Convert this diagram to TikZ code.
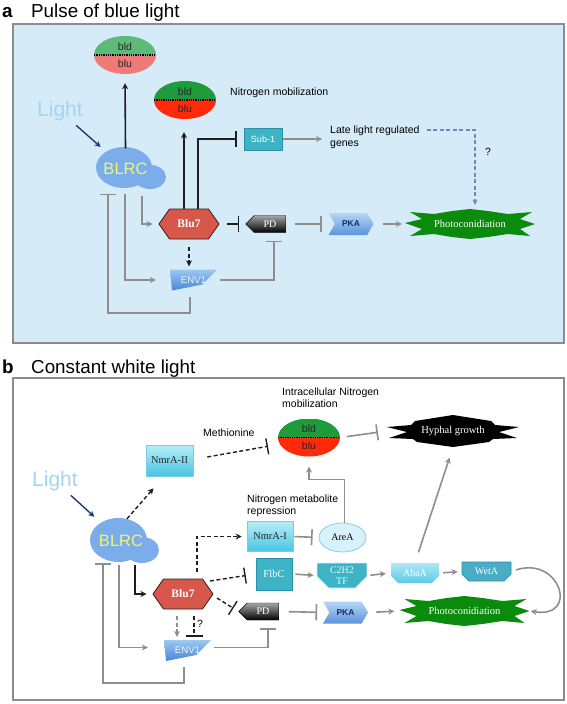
\documentclass[tikz,border=0pt]{standalone}
\usepackage{fontspec}
\setmainfont{Liberation Sans}
\newfontfamily\serifx{Liberation Serif}
\usetikzlibrary{arrows.meta,shapes.geometric,shapes.misc,shapes.symbols}

\definecolor{panelbg}{HTML}{D5EBF8}
\definecolor{panelline}{HTML}{8C8C8C}
\definecolor{grayline}{HTML}{8E8E8E}
\definecolor{darkline}{HTML}{1E1E1E}
\definecolor{navyline}{HTML}{1F3A7A}
\definecolor{dashblue}{HTML}{6C8CB4}
\definecolor{lightglow}{HTML}{9FD6F2}
\definecolor{greenpale}{HTML}{5DBB77}
\definecolor{pinkpale}{HTML}{F07A78}
\definecolor{greenvivid}{HTML}{1E9B3A}
\definecolor{redvivid}{HTML}{FF2A0A}
\definecolor{blrcfill}{HTML}{7AADE9}
\definecolor{blrctext}{HTML}{F5F56A}
\definecolor{blufill}{HTML}{D8574B}
\definecolor{bluborder}{HTML}{3A1A1A}
\definecolor{tealfill}{HTML}{3DB4C6}
\definecolor{tealline}{HTML}{2C8FA6}
\definecolor{pktop}{HTML}{B5D6F6}
\definecolor{pkbot}{HTML}{5B93DC}
\definecolor{pktext}{HTML}{1B2B5E}
\definecolor{photofill}{HTML}{0B8B0B}
\definecolor{envtop}{HTML}{9CC8F2}
\definecolor{envbot}{HTML}{4886D6}
\definecolor{envtext}{HTML}{EAF2FF}
\definecolor{nmrtop}{HTML}{B5EEF8}
\definecolor{nmrbot}{HTML}{48C5E2}
\definecolor{nmrline}{HTML}{7CCBE0}
\definecolor{abatop}{HTML}{B0E8F6}
\definecolor{ababot}{HTML}{5BC9E6}
\definecolor{wetfill}{HTML}{48ADC5}
\definecolor{areafill}{HTML}{D8F2FB}
\definecolor{arealine}{HTML}{8ACCE0}

\tikzset{
  lbl/.style={inner sep=1pt, align=left, font=\fontsize{10.5}{12}\selectfont},
  title/.style={inner sep=0, anchor=base west, font=\fontsize{18.8}{22}\selectfont},
  lighttx/.style={inner sep=1pt, text=lightglow, font=\fontsize{21}{24}\selectfont},
  blrctx/.style={inner sep=0, text=blrctext, font=\fontsize{16.5}{18}\selectfont},
  gline/.style={draw=grayline, line width=1.6pt},
  dline/.style={draw=darkline, line width=1.6pt},
  garrow/.style={gline, -{Stealth[length=6pt,width=6pt]}},
  ginhib/.style={gline, -{Bar[width=16pt]}},
  darrow/.style={dline, -{Stealth[length=6pt,width=6pt]}},
  dinhib/.style={dline, -{Bar[width=16pt]}},
  dashed line/.style={dash pattern=on 4pt off 2.5pt, line width=1.4pt},
  bud/.style 2 args={ellipse, minimum width=62, minimum height=38, inner sep=0,
    align=center, font=\fontsize{10.5}{17}\selectfont, text=black!85,
    path picture={
      \fill[#1] (path picture bounding box.north west) rectangle (path picture bounding box.east);
      \fill[#2] (path picture bounding box.west) rectangle (path picture bounding box.south east);
      \draw[black, line width=1.3pt, densely dotted] (path picture bounding box.west) -- (path picture bounding box.east);}},
  hexa/.style={signal, signal to=west and east, signal pointer angle=110, minimum width=60,
    minimum height=30, inner sep=0, fill=blufill, draw=bluborder, line width=0.8pt,
    text=white, font=\serifx\bfseries\fontsize{11.5}{13}\selectfont},
  pdbox/.style={signal, signal to=west, signal from=nowhere, minimum width=40, minimum height=17,
    inner sep=0, top color=black!35, bottom color=black, draw=black, line width=0.4pt,
    text=white, font=\serifx\fontsize{10}{12}\selectfont},
  pkbox/.style={signal, signal to=east, signal from=west, signal pointer angle=120,
    minimum width=45, minimum height=22, inner sep=0, top color=pktop, bottom color=pkbot,
    text=pktext, font=\bfseries\fontsize{8.5}{10}\selectfont},
  tealbox/.style={rectangle, fill=tealfill, draw=tealline, line width=0.8pt, inner sep=0,
    text=white},
  nmrbox/.style={rectangle, top color=nmrtop, bottom color=nmrbot, draw=nmrline, line width=0.6pt,
    inner sep=0, text=black!85, font=\serifx\fontsize{10.4}{12}\selectfont},
  cutbox/.style={chamfered rectangle, chamfered rectangle corners={south west, south east},
    chamfered rectangle xsep=8pt, inner sep=0, text=white,
    font=\serifx\fontsize{10}{11}\selectfont},
  envbox/.style={rectangle, minimum width=47, minimum height=21, inner sep=0, text=envtext,
    font=\fontsize{9.6}{11}\selectfont,
    path picture={
      \shade[top color=envtop, bottom color=envbot] (path picture bounding box.north west)
        -- (path picture bounding box.north east)
        -- ([shift={(-15,-6)}]path picture bounding box.south east)
        -- ([shift={(2,0)}]path picture bounding box.south west) -- cycle;}},
  burstbox/.style={rectangle, minimum width=130, minimum height=30, inner sep=0, text=white,
    font=\serifx\fontsize{10.5}{12}\selectfont},
  photostar/.pic={
    \fill[photofill] (-65,-1) -- (-48,-5) -- (-60,-12) -- (-36,-10) -- (-18,-13) -- (0,-15)
      -- (18,-13) -- (38,-10) -- (62,-12) -- (50,-5) -- (65,0) -- (50,5) -- (60,12)
      -- (38,10) -- (18,13) -- (0,15) -- (-18,13) -- (-36,10) -- (-60,12) -- (-48,5) -- cycle;},
  hyphstar/.pic={
    \fill[black] (-66,-4) -- (-42,-6) -- (-38,-10) -- (0,-16) -- (38,-10) -- (42,-6)
      -- (66,-4) -- (46,1) -- (64,7) -- (40,8) -- (36,11) -- (0,16) -- (-36,11)
      -- (-40,8) -- (-64,7) -- (-46,1) -- cycle;}
}

\begin{document}
\begin{tikzpicture}[x=1pt, y=-1pt]
  \useasboundingbox (0,0) rectangle (567,704);

  % panel a
  \draw[panelline, fill=panelbg, line width=1.2pt] (13,24) rectangle (564,343);
  \node[title, font=\bfseries\fontsize{18.8}{22}\selectfont] (labA) at (2,17) {a};
  \node[title] (titA) at (31,17) {Pulse of blue light};

  \node[lighttx] (lightA) at (60,111) {Light};
  \fill[blrcfill] (124,167.5) ellipse (28 and 20.5) (150,177) ellipse (16 and 12);
  \node[blrctx, minimum width=56, minimum height=41] (blrcA) at (125.5,169) {BLRC};
  \node[bud={greenpale}{pinkpale}] (budA1) at (125,55) {bld\\blu};
  \node[bud={greenvivid}{redvivid}] (budA2) at (185,100) {bld\\blu};
  \node[lbl, anchor=west] (nmobA) at (229,93) {Nitrogen mobilization};
  \node[tealbox, minimum width=38, minimum height=22, font=\fontsize{9}{10}\selectfont] (subA) at (263,139) {Sub-1};
  \node[lbl, anchor=west, font=\fontsize{10.5}{13}\selectfont] (lateA) at (329,137) {Late light regulated\\genes};
  \node[lbl] (qA) at (488,152) {?};
  \node[hexa] (bluA) at (189,224) {Blu7};
  \node[pdbox] (pdA) at (270,224) {PD};
  \node[pkbox] (pkA) at (351,224) {PKA};
  \pic at (470,224) {photostar};
  \node[burstbox] (phA) at (470,224) {Photoconidiation};
  \node[envbox] (envA) at (193.5,280) {ENV1};

  \draw[navyline, line width=1.4pt, -{Stealth[length=6pt,width=6pt]}, shorten <=5pt, shorten >=2pt] (lightA) -- (blrcA);
  \draw[darrow, shorten >=9pt] (blrcA.north) -- (budA1.south);
  \draw[garrow, shorten <=4pt, shorten >=14pt] ([xshift=-0.5pt]blrcA.south) |- (envA.west);
  \draw[garrow, shorten <=6pt, shorten >=6pt] ([xshift=16.5pt]blrcA.south) |- (bluA.west);
  \draw[ginhib, shorten >=4pt] ([xshift=-3.5pt,yshift=-6pt]envA.south) -- ++(0,16) -| ([xshift=-17.5pt]blrcA.south);
  \draw[dline, dashed line, -{Stealth[length=6pt,width=6pt]}, shorten <=8pt, shorten >=3pt] (bluA.south) -- (bluA.south |- envA.north);
  \draw[darrow, shorten >=13pt] ([xshift=-5pt]bluA.north) -- ([xshift=-1pt]budA2.south);
  \draw[dinhib, shorten >=7pt] ([xshift=9pt]bluA.north) |- (subA.west);
  \draw[garrow, shorten <=1pt, shorten >=7pt] (subA.east) -- (subA.east -| lateA.west);
  \draw[dashblue, dashed line, -{Stealth[length=5pt,width=5pt]}, shorten <=6pt, shorten >=4pt] ([yshift=7pt]lateA.east) -| ([xshift=5pt]phA.north);
  \draw[dinhib, shorten <=8pt, shorten >=6pt] (bluA.east) -- (pdA.west);
  \draw[ginhib, shorten <=9pt, shorten >=13pt] (pdA.east) -- (pkA.west);
  \draw[garrow, shorten <=9pt, shorten >=3pt] (pkA.east) -- (phA.west);
  \draw[ginhib, shorten <=3pt, shorten >=8pt] (envA.east) -| ([xshift=4pt]pdA.south);

  % panel b
  \draw[panelline, line width=1.2pt] (13,378) rectangle (564,700);
  \node[title, font=\bfseries\fontsize{18.8}{22}\selectfont] (labB) at (2,373) {b};
  \node[title] (titB) at (31,373) {Constant white light};

  \node[lighttx] (lightB) at (55,481) {Light};
  \fill[blrcfill] (118.5,540) ellipse (28.5 and 22) (142,550) ellipse (17 and 13);
  \node[blrctx, minimum width=57, minimum height=44] (blrcB) at (121,541) {BLRC};
  \node[nmrbox, minimum width=47, minimum height=31] (nmrII) at (169.5,460.5) {NmrA-II};
  \node[lbl, anchor=west] (methB) at (202,433) {Methionine};
  \node[lbl, anchor=west] (intraB) at (281,397.5) {Intracellular Nitrogen\\mobilization};
  \node[bud={greenvivid}{redvivid}] (budB) at (309,437.5) {bld\\blu};
  \pic at (453,431) {hyphstar};
  \node[burstbox, minimum width=132, minimum height=32] (hyB) at (453,431) {Hyphal growth};
  \node[lbl, anchor=west] (nmetB) at (246,506) {Nitrogen metabolite\\repression};
  \node[nmrbox, minimum width=46, minimum height=30] (nmrI) at (270,536.5) {NmrA-I};
  \node[ellipse, fill=areafill, draw=arealine, line width=0.8pt, minimum width=47, minimum height=29, inner sep=0,
    font=\serifx\fontsize{10}{12}\selectfont] (areaB) at (342.5,537.5) {AreA};
  \node[hexa] (bluB) at (183,594) {Blu7};
  \node[tealbox, minimum width=36, minimum height=32, font=\serifx\fontsize{10.5}{12}\selectfont] (flbB) at (274,574) {FlbC};
  \node[cutbox, fill=tealfill, draw=white!80!tealfill, line width=0.8pt, minimum width=50, minimum height=25, align=center,
    text=white!90!tealfill] (c2B) at (342,575.5) {C2H2\\TF};
  \node[cutbox, top color=abatop, bottom color=ababot, minimum width=48, minimum height=20] (abaB) at (415,573) {AbaA};
  \node[cutbox, fill=wetfill, draw=tealline, line width=0.6pt, minimum width=49, minimum height=19] (wetB) at (486.5,571.5) {WetA};
  \node[pdbox] (pdB) at (263,611.5) {PD};
  \node[pkbox] (pkB) at (345.5,612.5) {PKA};
  \pic at (464.5,611) {photostar};
  \node[burstbox] (phB) at (464.5,611) {Photoconidiation};
  \node[envbox] (envB) at (187.5,650.5) {ENV1};
  \node[lbl] (qB) at (200,624) {?};

  \draw[navyline, line width=1.4pt, -{Stealth[length=6pt,width=6pt]}, shorten <=5pt, shorten >=3pt] (lightB) -- (blrcB);
  \draw[dline, dashed line, -{Stealth[length=6pt,width=6pt]}] ([xshift=6pt]blrcB.north) -- ([xshift=-16pt,yshift=-12pt]nmrII.south);
  \draw[dline, dashed line, -{Bar[width=16pt]}, shorten >=10pt] ([xshift=14pt,yshift=3.5pt]nmrII.east) -- ([yshift=-7pt]budB.west);
  \draw[ginhib, shorten <=7pt, shorten >=9pt] (budB.east) -- (hyB.west);
  \draw[garrow, shorten >=10pt] ([xshift=2pt]areaB.north) -- ++(0,-43) -| (budB.south);
  \draw[dline, dashed line, -{Stealth[length=6pt,width=6pt]}, shorten <=7pt, shorten >=5pt] ([xshift=14pt]bluB.north) |- (nmrI.west);
  \draw[ginhib, shorten <=1pt, shorten >=6pt] (nmrI.east) -- (areaB.west);
  \draw[darrow, shorten <=2pt, shorten >=6pt] ([xshift=14pt]blrcB.south) |- (bluB.west);
  \draw[dline, dashed line, -{Bar[width=16pt]}, shorten >=10pt] ([shift={(27,-13)}]bluB.center) -- (flbB.west);
  \draw[dline, dashed line, -{Bar[width=16pt]}, shorten >=6pt] ([shift={(34,4)}]bluB.center) -- (pdB.west);
  \draw[ginhib, shorten <=10pt, shorten >=12pt] (pdB.east) -- (pkB.west);
  \draw[garrow, shorten <=8pt, shorten >=5pt] (pkB.east) -- (phB.west);
  \draw[garrow, shorten <=3pt, shorten >=3pt] (flbB.east) -- (c2B.west);
  \draw[garrow, shorten <=3pt, shorten >=5pt] (c2B.east) -- (abaB.west);
  \draw[garrow, shorten <=4pt, shorten >=4pt] (abaB.east) -- (wetB.west);
  \draw[garrow, shorten <=11pt, shorten >=11pt] (abaB.north) -- (hyB.south);
  \draw[garrow, shorten <=5pt, shorten >=1pt] (wetB.east) .. controls +(49,-16) and +(50,8) .. (phB.east);
  \draw[gline, dashed line, -{Stealth[length=6pt,width=6pt]}, shorten <=7pt, shorten >=3pt] ([xshift=-6pt]bluB.south) -- ([xshift=-10.5pt]envB.north);
  \draw[dline, dashed line, -{Bar[width=17pt]}, shorten <=7pt, shorten >=3pt] ([xshift=11pt]bluB.south) -- ([xshift=6.5pt]envB.north);
  \draw[garrow, shorten <=2pt, shorten >=16pt] ([xshift=-2pt]blrcB.south) |- ([yshift=3pt]envB.west);
  \draw[ginhib] ([xshift=-3.5pt,yshift=-6pt]envB.south) -- ++(0,16) -| ([xshift=-18pt]blrcB.south);
  \draw[ginhib, shorten <=3pt, shorten >=8pt] ([yshift=3pt]envB.east) -| ([xshift=5pt]pdB.south);
\end{tikzpicture}
\end{document}
